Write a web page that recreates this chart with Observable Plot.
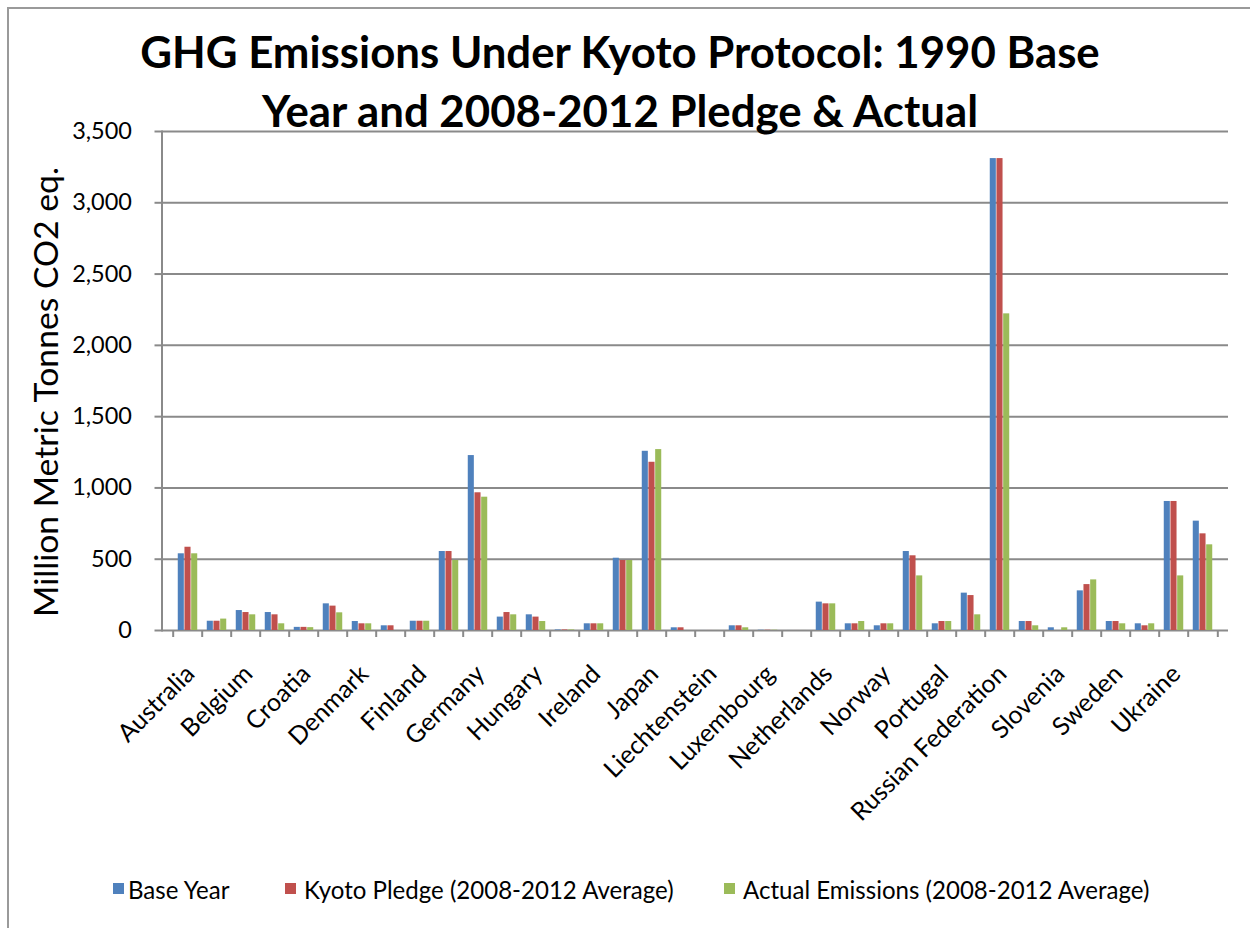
<!DOCTYPE html>
<html>
<head>
<meta charset="utf-8">
<script src="https://cdn.jsdelivr.net/npm/d3@7"></script>
<script src="https://cdn.jsdelivr.net/npm/@observablehq/plot@0.6"></script>
<style>
  html, body { margin: 0; padding: 0; background: #fff; }
  #wrap { position: relative; width: 1250px; height: 928px; overflow: hidden; font-family: Lato, "Open Sans", sans-serif; }
  #frame { position: absolute; left: 7px; top: 7px; width: 1400px; height: 1100px; border-left: 2px solid #9a9a9a; border-top: 2px solid #9a9a9a; box-sizing: border-box; }
  #chart, #overlay { position: absolute; left: 0; top: 0; }
  #overlay { pointer-events: none; }
</style>
</head>
<body>
<div id="wrap">
  <div id="frame"></div>
  <div id="chart"></div>
  <svg id="overlay" width="1250" height="928"></svg>
</div>
<script>
// ---------- data ----------
const countries = ["Australia","Austria","Belgium","Bulgaria","Croatia","Czech Republic","Denmark","Estonia","Finland","France","Germany","Greece","Hungary","Iceland","Ireland","Italy","Japan","Latvia","Liechtenstein","Lithuania","Luxembourg","Monaco","Netherlands","New Zealand","Norway","Poland","Portugal","Romania","Russian Federation","Slovakia","Slovenia","Spain","Sweden","Switzerland","Ukraine","United Kingdom"];
const baseYear    = [538, 65, 140, 126, 22, 187, 63, 33, 65, 554, 1227, 94, 110, 4, 47, 507, 1257, 19, 0.2, 33, 2, 0.1, 199, 47, 33, 554, 47, 262, 3310, 63, 19, 278, 63, 47, 905, 767];
const kyotoPledge = [584, 65, 126, 110, 22, 171, 47, 33, 65, 554, 966, 126, 94, 4, 47, 491, 1180, 19, 0.2, 33, 2, 0.1, 187, 47, 47, 524, 63, 245, 3310, 63, 0, 322, 63, 33, 905, 678];
const actual      = [538, 80, 110, 47, 20, 124, 47, 0, 65, 491, 935, 110, 63, 4, 47, 491, 1269, 0, 0.2, 19, 2, 0.1, 187, 63, 47, 383, 63, 110, 2221, 33, 19, 355, 47, 47, 383, 601];
const seriesNames = ["Base Year", "Kyoto Pledge (2008-2012 Average)", "Actual Emissions (2008-2012 Average)"];
const seriesColors = ["#4F81BD", "#C0504D", "#9BBB59"];
const yTicks = [0, 500, 1000, 1500, 2000, 2500, 3000, 3500];
const shownLabels = ["Australia","Belgium","Croatia","Denmark","Finland","Germany","Hungary","Ireland","Japan","Liechtenstein","Luxembourg","Netherlands","Norway","Portugal","Russian Federation","Slovenia","Sweden","Ukraine"];
const titleLines = ["GHG Emissions Under Kyoto Protocol: 1990 Base", "Year and 2008-2012 Pledge & Actual"];
const yLabel = "Million Metric Tonnes CO2 eq.";

// ---------- layout ----------
const W = 1250, H = 928;
const mL = 161.5, mR = 22, mT = 131, mB = 298;
const bw = (W - mL - mR) / countries.length;
const barW = 6.7;
const pad = (bw - 3 * barW) / 2;
const grid = "#8a8a8a";
const seriesValues = [baseYear, kyotoPledge, actual];

const barMarks = seriesValues.map((vals, s) =>
  Plot.barY(countries, {
    x: d => d,
    y: (d, i) => vals[i],
    fill: seriesColors[s],
    insetLeft: pad + s * barW,
    insetRight: pad + (2 - s) * barW
  })
);

const chart = Plot.plot({
  width: W,
  height: H,
  marginLeft: mL,
  marginRight: mR,
  marginTop: mT,
  marginBottom: mB,
  style: { fontFamily: "Lato, 'Open Sans', sans-serif", color: "#000", background: "transparent", overflow: "visible" },
  x: { type: "band", domain: countries, padding: 0, axis: null },
  y: { domain: [0, 3500], axis: null },
  marks: [
    Plot.ruleY(yTicks, { stroke: grid, strokeWidth: 2 }),
    Plot.frame({ anchor: "left", stroke: grid, strokeWidth: 2 }),
    Plot.axisY({ ticks: yTicks, tickFormat: d3.format(","), tickSize: 7, tickPadding: 23, fontSize: 23.5, stroke: grid, strokeWidth: 2, label: null }),
    Plot.axisX({ ticks: countries, tickFormat: () => "", tickSize: 7, dx: -bw / 2, stroke: grid, strokeWidth: 2, label: null }),
    Plot.axisX({ ticks: [countries[countries.length - 1]], tickFormat: () => "", tickSize: 7, dx: bw / 2, stroke: grid, strokeWidth: 2, label: null }),
    ...barMarks,
    Plot.text(shownLabels, {
      x: d => d,
      frameAnchor: "bottom",
      rotate: -45,
      textAnchor: "end",
      lineAnchor: "bottom",
      fontSize: 25,
      fill: "#000",
      dx: 8,
      dy: 45
    })
  ]
});
document.getElementById("chart").appendChild(chart);

// ---------- title, axis title, legend ----------
const ov = d3.select("#overlay");
function fit(sel, target) {
  const len = sel.node().getComputedTextLength();
  const fs = parseFloat(sel.attr("font-size"));
  return fs * target / len;
}
const t1 = ov.append("text").attr("x", 620).attr("y", 68).attr("text-anchor", "middle")
  .attr("font-family", "Lato, sans-serif").attr("font-weight", "bold").attr("font-size", 40).text(titleLines[0]);
const tfs = fit(t1, 960);
t1.attr("font-size", tfs);
ov.append("text").attr("x", 620).attr("y", 127).attr("text-anchor", "middle")
  .attr("font-family", "Lato, sans-serif").attr("font-weight", "bold").attr("font-size", tfs).text(titleLines[1]);

const yl = ov.append("text").attr("transform", "translate(45,392) rotate(-90)").attr("text-anchor", "middle")
  .attr("dominant-baseline", "central").attr("font-family", "Lato, sans-serif").attr("font-size", 24).text(yLabel);
yl.attr("font-size", fit(yl, 450));

const legX = [[113, 128], [285, 304], [724, 743]];
const probe = ov.append("text").attr("font-family", "Lato, sans-serif").attr("font-size", 20).text(seriesNames[1]);
const lfs = fit(probe, 370);
probe.remove();
seriesNames.forEach((name, i) => {
  ov.append("rect").attr("x", legX[i][0]).attr("y", 883).attr("width", 11).attr("height", 11).attr("fill", seriesColors[i]);
  ov.append("text").attr("x", legX[i][1]).attr("y", 889).attr("dominant-baseline", "central")
    .attr("font-family", "Lato, sans-serif").attr("font-size", lfs).text(name);
});
</script>
</body>
</html>
